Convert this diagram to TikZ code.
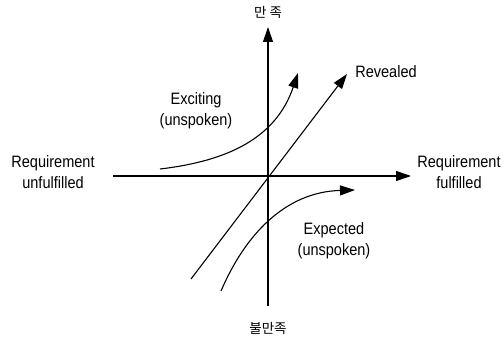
\documentclass[tikz,border=0pt]{standalone}
\usepackage{fontspec}
\setmainfont{Liberation Sans}[FakeStretch=0.88]
\newfontfamily\kr{Noto Sans CJK KR}
\usetikzlibrary{arrows.meta}
\begin{document}
\begin{tikzpicture}[x=1pt,y=-1pt,
  lbl/.style={font=\fontsize{16.5}{21}\selectfont,align=center,inner sep=0pt},
  krl/.style={font=\kr\fontsize{13.5}{15}\selectfont,inner sep=0pt},
  ln/.style={line width=1.1pt},
  arr/.style={ln,-{Triangle[length=15pt,width=10pt]}}]
\useasboundingbox (0,0) rectangle (504,342);
\coordinate (xl) at (113,176);
\coordinate (xr) at (411,176);
\coordinate (yb) at (268,306);
\coordinate (yt) at (268,27);
\draw[arr] (xl) -- (xr);
\draw[arr] (yb) -- (yt);
% Revealed
\coordinate (r0) at (191,279);
\coordinate (r1) at (347,74);
\draw[arr] (r0) -- (r1);
% Exciting
\coordinate (e0) at (160,169);
\coordinate (e1) at (298,73);
\draw[arr] (e0) .. controls (228,161) and (276,138) .. (e1);
% Expected
\coordinate (p0) at (221,291);
\coordinate (p1) at (355,190);
\draw[arr] (p0) .. controls (245,235) and (285,192) .. (p1);
% labels
\node[krl] (top) at (268,12) {만 족};
\node[krl] (bot) at (268,328) {불만족};
\node[lbl] (lft) at (53,172) {Requirement\\unfulfilled};
\node[lbl] (rgt) at (459,172) {Requirement\\fulfilled};
\node[lbl] (exc) at (196,111) {Exciting\\(unspoken)};
\node[lbl] (rev) at (386,72) {Revealed};
\node[lbl] (exp) at (334,241) {Expected\\(unspoken)};
\end{tikzpicture}
\end{document}
